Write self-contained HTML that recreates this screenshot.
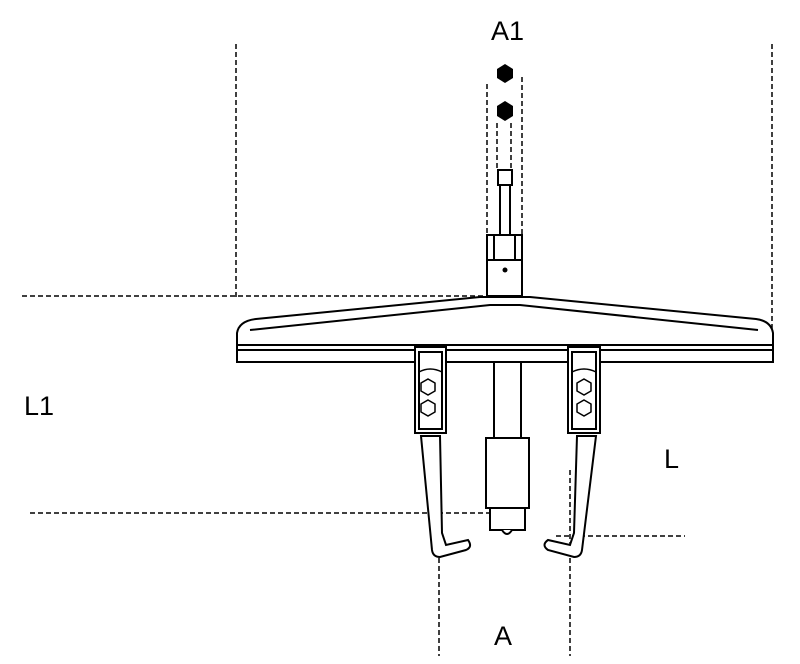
<!DOCTYPE html><html><head><style>body{margin:0;background:#fff}svg{display:block}text{font-family:"Liberation Sans",sans-serif;font-size:27px}</style></head><body>
<svg width="800" height="664" viewBox="0 0 800 664">
<g fill="none" stroke="#000" stroke-width="1.5" stroke-dasharray="5,3">
<line x1="236" y1="44" x2="236" y2="300"/><line x1="772" y1="44" x2="772" y2="330"/>
<line x1="22" y1="296" x2="486" y2="296"/><line x1="30" y1="513" x2="505" y2="513"/>
<line x1="556" y1="536" x2="685" y2="536"/>
<line x1="439" y1="470" x2="439" y2="656"/><line x1="570" y1="470" x2="570" y2="656"/>
<line x1="487" y1="84" x2="487" y2="235"/><line x1="522" y1="77" x2="522" y2="235"/>
<line x1="497" y1="123" x2="497" y2="170"/><line x1="511" y1="123" x2="511" y2="170"/>
</g>
<g fill="#000"><polygon points="505,64 513,69 513,78 505,83 497,78 497,69"/><polygon points="505,101 513,106 513,116 505,121 497,116 497,106"/></g>
<g fill="#fff" stroke="#000" stroke-width="2">
<rect x="498" y="170" width="14" height="15"/><rect x="500" y="185" width="10" height="50"/>
<rect x="487" y="235" width="35" height="25"/><line x1="494" y1="235" x2="494" y2="260"/><line x1="515" y1="235" x2="515" y2="260"/>
<rect x="487" y="260" width="35" height="36"/>
<path d="M237,345 L237,333 Q239,321 256,319 L480,297 L530,297 L756,319 Q771,321 773,333 L773,345 Z"/>
<path d="M250,330 L490,305 L520,305 L758,330"/>
<rect x="237" y="345" width="536" height="17"/><line x1="237" y1="350" x2="773" y2="350"/>
<rect x="494" y="362" width="27" height="76"/>
<rect x="486" y="438" width="43" height="70"/><rect x="490" y="508" width="35" height="22"/>
<path d="M502,530 Q507,538 512,530"/>
<path d="M421,436 L440,436 L442,533 L446,545 L468,540 Q473,547 466,550 L440,557 Q433,557 432,550 Z"/>
<path d="M596,436 L577,436 L574,533 L570,545 L548,540 Q541,545 548,550 L574,557 Q581,557 582,550 Z"/>
<rect x="415" y="347" width="31" height="86"/><rect x="419" y="352" width="23" height="77"/>
<rect x="568" y="347" width="32" height="86"/><rect x="572" y="352" width="24" height="77"/>
</g>
<g fill="none" stroke="#000" stroke-width="1.5">
<polygon points="428,379 435,383 435,391 428,395 421,391 421,383"/><polygon points="428,400 435,404 435,412 428,416 421,412 421,404"/>
<polygon points="584,379 591,383 591,391 584,395 577,391 577,383"/><polygon points="584,400 591,404 591,412 584,416 577,412 577,404"/>
<path d="M419,372 Q430,366 442,372"/><path d="M572,372 Q584,366 596,372"/>
</g>
<circle cx="505" cy="270" r="2.5" fill="#000"/>
<text x="491" y="40">A1</text><text x="24" y="415">L1</text><text x="664" y="468">L</text><text x="494" y="645">A</text>
</svg></body></html>
